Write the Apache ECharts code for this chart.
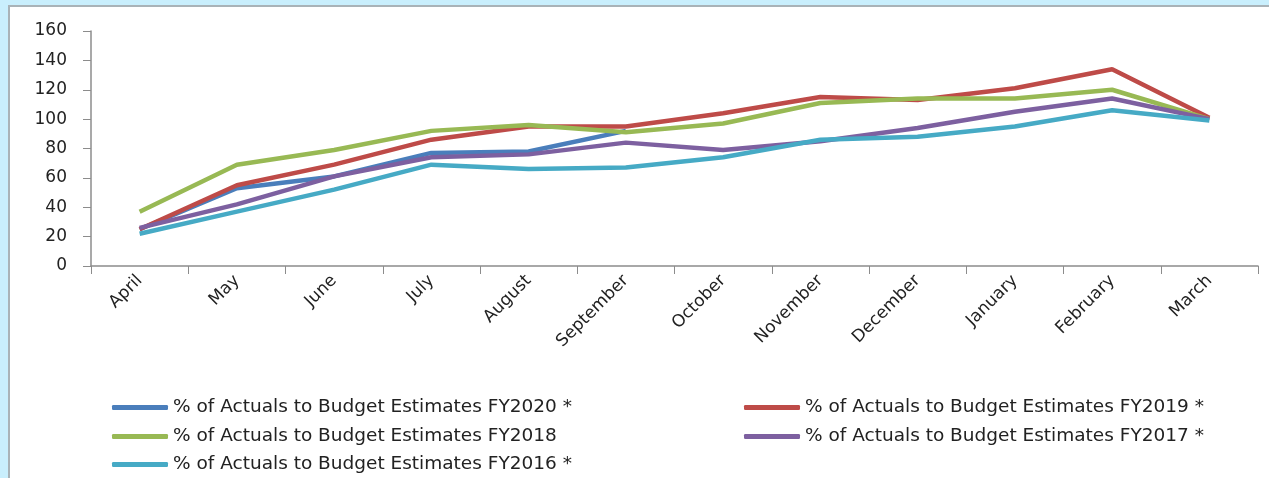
<!DOCTYPE html>
<html>
<head>
<meta charset="utf-8">
<title>% of Actuals to Budget Estimates</title>
<style>
	html, body { margin:0; padding:0; background:#c9effd; }
	#frame { position:absolute; left:8px; top:5px; width:1261px; height:473px; background:#fff; border-left:2px solid #a9b3b8; border-top:2px solid #a9b3b8; }
	#main { position:absolute; left:-10px; top:-7px; width:1269px; height:478px; }
</style>
</head>
<body>
<div id="frame"><div id="main"></div></div>
<script src="https://cdn.jsdelivr.net/npm/echarts@6/dist/echarts.min.js"></script>
<script>
// months of the fiscal year
var months = ['April','May','June','July','August','September','October','November','December','January','February','March'];
var yTicks = [0, 20, 40, 60, 80, 100, 120, 140, 160];

// % of actuals to budget estimates
var fy2020 = [25, 53, 61, 77, 78, 92, null, null, null, null, null, null];
var fy2019 = [25, 55, 69, 86, 95, 95, 104, 115, 113, 121, 134, 101];
var fy2018 = [37, 69, 79, 92, 96, 91, 97, 111, 114, 114, 120, 100];
var fy2017 = [26, 42, 61, 74, 76, 84, 79, 85, 94, 105, 114, 100];
var fy2016 = [22, 37, 52, 69, 66, 67, 74, 86, 88, 95, 106, 99];

var names = [
	'% of Actuals to Budget Estimates FY2020 *',
	'% of Actuals to Budget Estimates FY2019 *',
	'% of Actuals to Budget Estimates FY2018',
	'% of Actuals to Budget Estimates FY2017 *',
	'% of Actuals to Budget Estimates FY2016 *'
];
var colors = ['#4a7ebb', '#be4b48', '#98b954', '#7d60a0', '#46aac5'];
var values = [fy2020, fy2019, fy2018, fy2017, fy2016];

// legend slots: [left, top] of each entry, two columns like the original
var legendPos = [[112, 398], [744, 398], [112, 427], [744, 427], [112, 455]];

var myChart = echarts.init(document.getElementById('main'));

var seriess = [];
var legends = [];
for (var i = 0; i < names.length; i++) {
	seriess.push({
		name : names[i],
		type : 'line',
		data : values[i],
		symbol : 'none',
		lineStyle : { width : 4.5, color : colors[i] },
		itemStyle : { color : colors[i] }
	});
	legends.push({
		left : legendPos[i][0],
		top : legendPos[i][1],
		data : [names[i]],
		icon : 'roundRect',
		itemWidth : 56,
		itemHeight : 5,
		padding : 0,
		textStyle : { fontFamily : 'DejaVu Sans', fontSize : 18.5, color : '#222' }
	});
}

myChart.setOption({
	animation : false,
	color : colors,
	textStyle : { fontFamily : 'DejaVu Sans' },
	grid : { left : 91, right : 11, top : 31, bottom : 212 },
	legend : legends,
	xAxis : {
		type : 'category',
		data : months,
		boundaryGap : true,
		axisLine : { lineStyle : { color : '#8c8c8c', width : 1.5 } },
		axisTick : { show : true, length : 8, lineStyle : { color : '#8c8c8c' } },
		axisLabel : { rotate : 45, fontSize : 17, color : '#222', margin : 12, interval : 0 }
	},
	yAxis : {
		type : 'value',
		min : yTicks[0],
		max : yTicks[yTicks.length - 1],
		interval : 20,
		splitLine : { show : false },
		axisLine : { show : true, lineStyle : { color : '#8c8c8c', width : 1.5 } },
		axisTick : { show : true, length : 8, lineStyle : { color : '#8c8c8c' } },
		axisLabel : { fontSize : 17, color : '#222', margin : 24 }
	},
	series : seriess
});
</script>
</body>
</html>
